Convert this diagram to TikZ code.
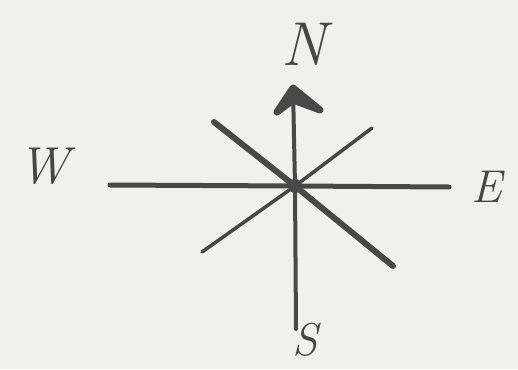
\documentclass[tikz,border=0pt]{standalone}
\usepackage{fontspec}
\definecolor{paper}{RGB}{240,240,238}
\definecolor{ink}{RGB}{72,72,72}
\definecolor{pen}{RGB}{70,70,70}
\begin{document}
\begin{tikzpicture}[x=1pt,y=-1pt,
  stroke/.style={draw=ink,line cap=round},
  lbl/.style={text=pen,inner sep=0pt,font=\itshape}]
\fill[paper] (0,0) rectangle (518,369);
\useasboundingbox (0,0) rectangle (518,369);
\coordinate (c) at (295,186);
\coordinate (w) at (110,185);
\coordinate (e) at (449,187);
\coordinate (n) at (293,88);
\coordinate (s) at (296,329);
\coordinate (nw) at (214,122);
\coordinate (se) at (393,266);
\coordinate (ne) at (372,128);
\coordinate (sw) at (202,252);
\coordinate (bl) at (277,112);
\coordinate (br) at (320,110);
\draw[stroke,line width=5pt] (w) -- (c) -- (e);
\draw[stroke,line width=4pt] (s) -- (c) -- (n);
\draw[stroke,line width=6pt] (nw) -- (c) -- (se);
\draw[stroke,line width=3.5pt] (ne) -- (c) -- (sw);
\draw[stroke,fill=ink,line width=7pt,line join=round] (bl) -- (n) -- (br) -- (293,100) -- cycle;
\fill[ink] (c) circle (7);
\node[lbl,font=\itshape\fontsize{62}{62}\selectfont] (N) at (304,44) {N};
\node[lbl,font=\itshape\fontsize{52}{52}\selectfont] (W) at (44,166) {W};
\node[lbl,font=\itshape\fontsize{46}{46}\selectfont] (E) at (487,187) {E};
\node[lbl,font=\itshape\fontsize{46}{46}\selectfont] (S) at (305,340) {S};
\end{tikzpicture}
\end{document}
